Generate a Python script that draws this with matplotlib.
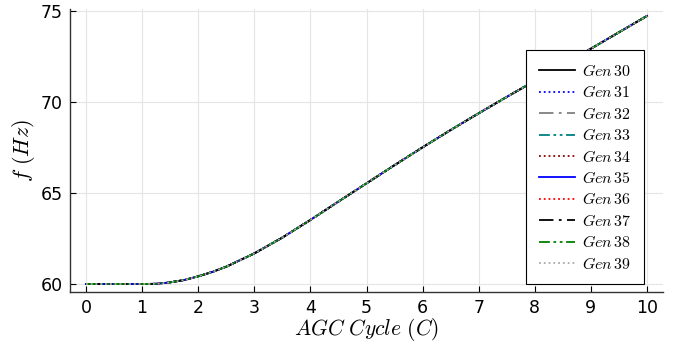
import numpy as np
import matplotlib
matplotlib.use('Agg')
import matplotlib.pyplot as plt

plt.rcParams['mathtext.fontset'] = 'cm'
plt.rcParams['font.family'] = 'DejaVu Sans'

# AGC cycle vs frequency (all generators overlap)
cycle = [0, 0.5, 1.0, 1.25, 1.5, 1.75, 2.0, 2.25, 2.5, 3.0, 3.5, 4.0, 4.5,
         5.0, 5.5, 6.0, 6.5, 7.0, 7.5, 8.0, 8.5, 9.0, 9.5, 10.0]
freq = [60.0, 60.0, 60.0, 60.01, 60.09, 60.22, 60.42, 60.66, 60.95, 61.68,
        62.55, 63.52, 64.53, 65.53, 66.53, 67.51, 68.46, 69.38, 70.28, 71.16,
        72.05, 72.93, 73.83, 74.73]
gens = [30, 31, 32, 33, 34, 35, 36, 37, 38, 39]
xticks = list(range(0, 11))
yticks = [60, 65, 70, 75]

colors = ['black', 'blue', 'gray', 'teal', 'darkred',
          'blue', 'red', 'black', 'green', 'darkgray']
styles = ['-', ':', (0, (8, 3, 1.5, 3)), (0, (6, 2, 1.5, 2, 1.5, 2)), ':',
          '-', ':', (0, (8, 3, 1.5, 3)), (0, (6, 2, 1.5, 2, 1.5, 2)), ':']

fig = plt.figure(figsize=(6.81, 3.47), dpi=100)
ax = fig.add_axes([70/681, 1 - 292/347, 593/681, 283/347])

for g, c, s in zip(gens, colors, styles):
    ax.plot(cycle, freq, color=c, linestyle=s, linewidth=1.3,
            label=r'$Gen\,%d$' % g)

ax.set_xlim(-0.285, 10.285)
ax.set_ylim(59.56, 75.11)
ax.set_xticks(xticks)
ax.set_yticks(yticks)
ax.tick_params(direction='in', length=4, width=0.8, labelsize=12.5, pad=5)
ax.grid(True, color='#e5e5e5', linewidth=0.8)
ax.set_axisbelow(True)
for side in ['top', 'right']:
    ax.spines[side].set_visible(False)
for side in ['left', 'bottom']:
    ax.spines[side].set_color('#333333')
    ax.spines[side].set_linewidth(1.0)

ax.set_xlabel(r'$AGC\ Cycle\ (C)$', fontsize=15.5, labelpad=-1)
ax.set_ylabel(r'$f\ (Hz)$', fontsize=16, labelpad=3)

leg = ax.legend(loc='upper right', bbox_to_anchor=(0.968, 0.855),
                borderaxespad=0, fontsize=11.5, handlelength=2.3,
                labelspacing=0.34, fancybox=False, framealpha=1,
                edgecolor='black', borderpad=0.8, handletextpad=0.4)
leg.get_frame().set_linewidth(0.8)

fig.savefig('out.png', dpi=100)
